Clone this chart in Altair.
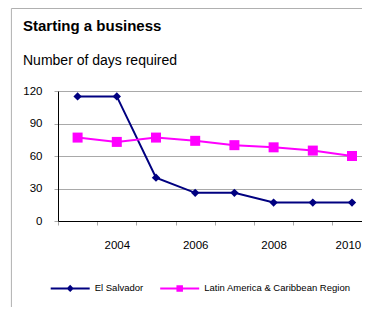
import altair as alt
import pandas as pd

years = [2003, 2004, 2005, 2006, 2007, 2008, 2009, 2010]
el_salvador = [115, 115, 40, 26, 26, 17, 17, 17]
latam = [77, 73, 77, 74, 70, 68, 65, 60]
series_names = ["El Salvador", "Latin America & Caribbean Region"]
series_colors = ["#000080", "#FF00FF"]
y_ticks = [0, 30, 60, 90, 120]
x_tick_edges = [2002.5, 2003.5, 2004.5, 2005.5, 2006.5, 2007.5, 2008.5, 2009.5]
title_text = "Starting a business"
subtitle_text = "Number of days required"

rows = []
for y, a, b in zip(years, el_salvador, latam):
    rows.append({"year": y, "series": series_names[0], "days": a})
    rows.append({"year": y, "series": series_names[1], "days": b})
df = pd.DataFrame(rows)

FONT = "Liberation Sans"
W, H = 304, 130
GRAY = "#a9a9a9"

xscale = alt.Scale(domain=[2002.5, 2002.5 + W / 39.2], nice=False, zero=False)
yscale = alt.Scale(domain=[0, 120], nice=False, zero=True)

x_axis = alt.Axis(
    values=x_tick_edges, grid=False, title=None,
    labelExpr="(datum.value + 0.5) % 2 === 0 ? '' + (datum.value + 0.5) : ''",
    labelOffset={"condition": {"test": "datum.value === 2009.5", "value": 15.5}, "value": 19.6},
    labelOverlap=False, labelFlush=False,
    tickColor=GRAY, tickSize=4, labelPadding=14,
    domainColor="#000000", labelFont=FONT, labelFontSize=11.5, labelColor="#000000",
)
y_axis = alt.Axis(
    values=y_ticks, grid=True, gridColor=GRAY, title=None,
    tickColor=GRAY, tickSize=4, labelPadding=12, domainColor="#000000",
    labelFont=FONT, labelFontSize=11.5, labelColor="#000000", labelFlush=False,
    labelOverlap=False,
)

sym_es = "M-3.9,0L3.9,0M0,-0.45L0.45,0L0,0.45L-0.45,0Z"
sym_la = "M-3.9,0L3.9,0M-0.45,-0.45L0.45,-0.45L0.45,0.45L-0.45,0.45Z"

legend = alt.Legend(
    orient="none", legendX=6.2, legendY=191, direction="horizontal", title=None,
    labelFont=FONT, labelFontSize=9.5, labelColor="#000000", labelLimit=400,
    symbolSize=100, labelOffset=18.5, columnPadding=11.5, padding=0,
    symbolStrokeWidth=2, symbolOpacity=1,
)
col_scale = alt.Scale(domain=series_names, range=series_colors)

X = alt.X("year:Q", scale=xscale, axis=x_axis)
Y = alt.Y("days:Q", scale=yscale, axis=y_axis)

base = alt.Chart(df)
lines = base.mark_line(strokeWidth=2).encode(
    x=X, y=Y,
    color=alt.Color("series:N", scale=col_scale, legend=legend),
)
pts_es = base.transform_filter(alt.datum.series == series_names[0]).mark_point(
    shape="diamond", size=70, filled=True, color=series_colors[0], opacity=1
).encode(x=X, y=Y)
pts_la = base.transform_filter(alt.datum.series == series_names[1]).mark_point(
    shape="square", size=100, filled=True, color=series_colors[1], opacity=1
).encode(x=X, y=Y)

# helper layer that only feeds the legend symbols (its marks sit outside the canvas)
legend_layer = base.mark_point(filled=True).encode(
    x=alt.value(-2000),
    y=alt.value(-2000),
    fill=alt.Fill("series:N", scale=col_scale, legend=legend),
    stroke=alt.Stroke("series:N", scale=col_scale, legend=legend),
    shape=alt.Shape("series:N", scale=alt.Scale(domain=series_names, range=[sym_es, sym_la]), legend=legend),
)

one = pd.DataFrame({"k": [0]})
frame_left = alt.Chart(one).mark_rule(color="#b0b0b0", strokeWidth=1).encode(
    x=alt.value(-46.6), y=alt.value(-82.5), y2=alt.value(216)
)
frame_top = alt.Chart(one).mark_rule(color="#b0b0b0", strokeWidth=1).encode(
    x=alt.value(-46.6), x2=alt.value(W), y=alt.value(-82.5)
)
title_mark = alt.Chart(one).mark_text(
    align="left", baseline="alphabetic", font=FONT, fontSize=15, fontWeight="bold", color="#000000"
).encode(x=alt.value(-35), y=alt.value(-59.7), text=alt.value(title_text))
subtitle_mark = alt.Chart(one).mark_text(
    align="left", baseline="alphabetic", font=FONT, fontSize=14, color="#000000"
).encode(x=alt.value(-35), y=alt.value(-26), text=alt.value(subtitle_text))

chart = alt.layer(
    frame_left, frame_top, title_mark, subtitle_mark, lines, pts_es, pts_la, legend_layer
).properties(
    width=W, height=H,
    autosize=alt.AutoSizeParams(type="none"),
    padding={"left": 50, "top": 83, "right": 0, "bottom": 86},
    background="#ffffff",
).configure_view(strokeWidth=0)

chart.save("out.html", embed_options={"renderer": "svg", "actions": False})
